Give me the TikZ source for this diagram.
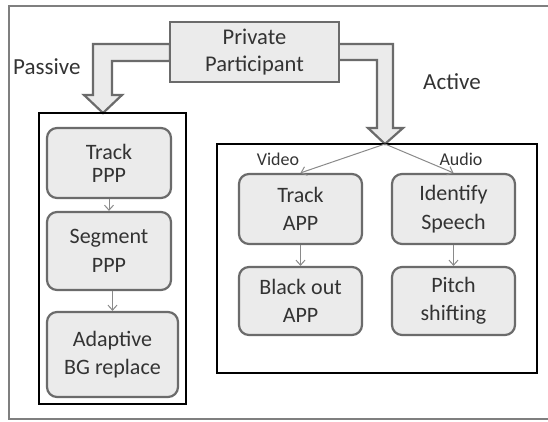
\documentclass[tikz,border=0pt]{standalone}
\usepackage{fontspec}
\setmainfont{Carlito}
\usetikzlibrary{arrows.meta}
\definecolor{boxfill}{HTML}{EBEBEB}
\definecolor{boxline}{HTML}{6B6B6B}
\definecolor{frameline}{HTML}{7F7F7F}
\definecolor{txt}{HTML}{333333}
\definecolor{connc}{HTML}{8A8A8A}
\begin{document}
\begin{tikzpicture}[x=1pt,y=-1pt,
  stepbox/.style={draw=boxline, line width=2.2pt, fill=boxfill, rounded corners=10pt,
    text=txt, align=center, inner sep=0pt, font=\fontsize{22}{28.5}\selectfont},
  tightbox/.style={stepbox, font=\fontsize{22}{23}\selectfont},
  topbox/.style={draw=boxline, line width=2.2pt, fill=boxfill, text=txt, align=center,
    inner sep=0pt, font=\fontsize{22.5}{27}\selectfont},
  container/.style={draw=black, line width=2.8pt, inner sep=0pt},
  bigarrow/.style={draw=boxline, line width=2.2pt, fill=boxfill, line join=miter},
  lbl/.style={text=txt, inner sep=0pt, font=\fontsize{23}{27}\selectfont},
  smalllbl/.style={text=txt, inner sep=0pt, font=\fontsize{18}{22}\selectfont},
  connector/.style={draw=connc, line width=1pt, -{Straight Barb[length=5pt,width=9pt]}}
]
\useasboundingbox (0,0) rectangle (548,422);
% outer frame
\draw[frameline, line width=2.7pt] (548,6) -- (9,6) -- (9,419) -- (548,419);

% big hollow arrows
\draw[bigarrow] (170,44) -- (93,44) -- (93,95) -- (84,95) -- (103,113) -- (122,95)
  -- (112,95) -- (112,61) -- (170,61) -- cycle;
\draw[bigarrow] (338,44) -- (393,44) -- (393,128) -- (403,128) -- (385,144) -- (368,128)
  -- (377,128) -- (377,60) -- (338,60) -- cycle;

% containers
\node[container, minimum width=147pt, minimum height=291pt] (pbox) at (112.5,258.5) {};
\node[container, minimum width=320pt, minimum height=229pt] (abox) at (377,258.5) {};

% top box
\node[topbox, minimum width=169pt, minimum height=60pt] (pp) at (254.5,52) {Private\\Participant};

% labels
\node[lbl, anchor=base west] (passive) at (13,75) {Passive};
\node[lbl, anchor=base west] (active) at (423,90) {Active};
\node[smalllbl, anchor=base] (video) at (278,165) {Video};
\node[smalllbl, anchor=base] (audio) at (461,165) {Audio};

% passive steps
\node[tightbox, minimum width=124pt, minimum height=70pt] (t1) at (109,163) {Track\\PPP};
\node[stepbox, minimum width=124pt, minimum height=78pt] (s1) at (109,251) {Segment\\PPP};
\node[stepbox, minimum width=131pt, minimum height=85pt] (a1) at (112.5,354.5) {Adaptive\\BG replace};

% active steps
\node[stepbox, minimum width=123pt, minimum height=70pt] (t2) at (300.5,209) {Track\\APP};
\node[stepbox, minimum width=123pt, minimum height=70pt] (i2) at (453.5,209) {Identify\\Speech};
\node[stepbox, minimum width=123pt, minimum height=68pt] (b2) at (300.5,301) {Black out\\APP};
\node[stepbox, minimum width=123pt, minimum height=68pt] (p2) at (453.5,301) {Pitch\\shifting};

% connectors
\coordinate (apex) at (385,144);
\draw[connector] (t1.south) -- (s1.north);
\draw[connector] (s1.south -| a1.north) -- (a1.north);
\draw[connector] (apex) -- (t2.north);
\draw[connector] (apex) -- (i2.north);
\draw[connector] (t2.south) -- (b2.north);
\draw[connector] (i2.south) -- (p2.north);
\end{tikzpicture}
\end{document}
